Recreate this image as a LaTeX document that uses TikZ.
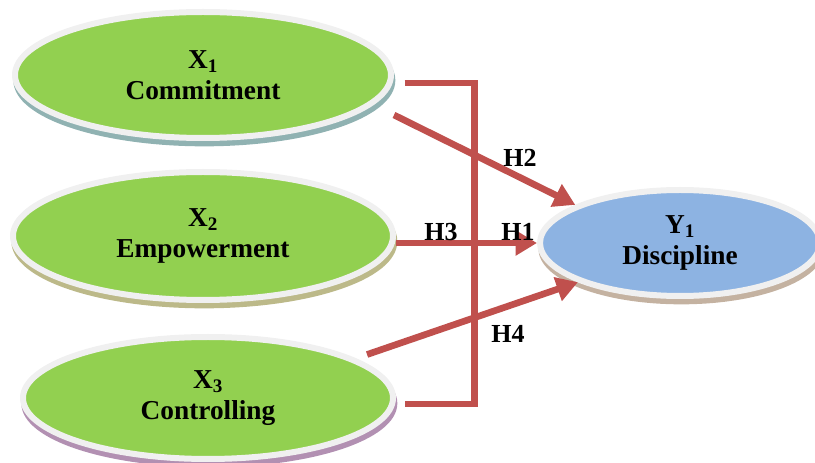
\documentclass[tikz,border=0pt]{standalone}
\usepackage{fontspec}
\setmainfont{Liberation Serif}
\usetikzlibrary{shapes.geometric,shadows,arrows.meta}
\definecolor{leaf}{HTML}{92D050}
\definecolor{sky}{HTML}{8DB3E2}
\definecolor{rim}{HTML}{F0F0F0}
\definecolor{brick}{HTML}{C0504D}
\tikzset{
  construct/.style={ellipse, draw=rim, line width=4.5pt, inner sep=0pt, align=center,
    font=\bfseries\fontsize{20.5}{23}\selectfont},
  bevel/.style={general shadow={shadow xshift=1pt, shadow yshift=-4pt, fill=#1!20, draw=#1!45!gray!60}},
  link/.style={draw=brick, line width=5pt},
  pathway/.style={link, -{Triangle[length=16pt,width=18pt]}},
  hyp/.style={inner sep=0pt, font=\bfseries\fontsize{19.5}{22}\selectfont}
}
\begin{document}
\begin{tikzpicture}[x=0.75pt,y=-0.75pt]
  \useasboundingbox (0,0) rectangle (815,463);
  \node[construct, bevel=teal, fill=leaf, minimum width=282pt, minimum height=94.5pt] (x1) at (203,75) {X\textsubscript{1}\\Commitment};
  \node[construct, bevel=olive, fill=leaf, minimum width=285pt, minimum height=96pt] (x2) at (203,236) {X\textsubscript{2}\\Empowerment};
  \node[construct, bevel=violet, fill=leaf, minimum width=277.5pt, minimum height=91.5pt] (x3) at (208,398) {X\textsubscript{3}\\Controlling};
  \node[construct, bevel=brown, fill=sky, minimum width=210pt, minimum height=79.5pt] (y1) at (680,243) {Y\textsubscript{1}\\Discipline};
  \draw[link] ([xshift=8pt,yshift=-6pt]x1.east) -- ++(52.5pt,0) |- ([xshift=7pt,yshift=-4.5pt]x3.east);
  \draw[pathway] ([yshift=-30pt]x1.east) -- (y1.160);
  \draw[pathway] (x2.east |- y1.west) -- (y1.west);
  \draw[pathway, shorten <=9pt] (x3.15) -- (y1.201);
  \node[hyp] (h2) at (520,158) {H2};
  \node[hyp] (h3) at (441,232) {H3};
  \node[hyp] (h1) at (518,232) {H1};
  \node[hyp] (h4) at (508,334) {H4};
\end{tikzpicture}
\end{document}
